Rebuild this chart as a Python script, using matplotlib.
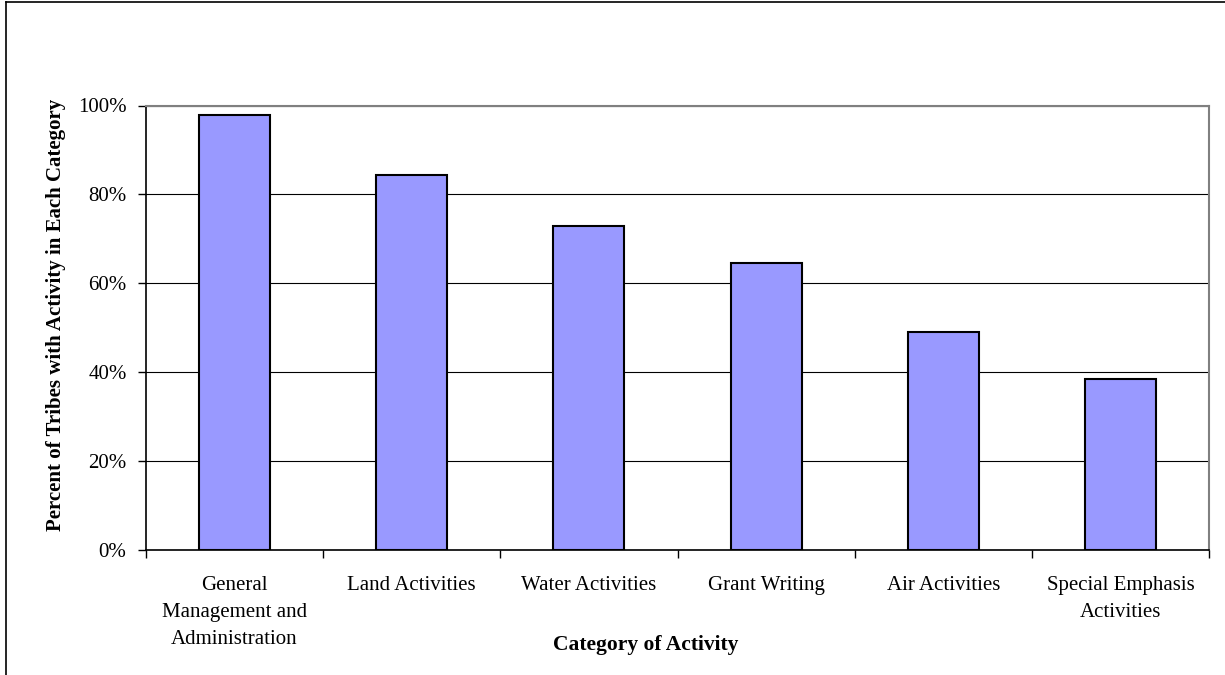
import numpy as np
import matplotlib.pyplot as plt
from matplotlib.ticker import PercentFormatter
from matplotlib.lines import Line2D

categories = ["General\nManagement and\nAdministration", "Land Activities", "Water Activities",
              "Grant Writing", "Air Activities", "Special Emphasis\nActivities"]
percents = [97.8, 84.3, 72.9, 64.6, 49.0, 38.5]

plt.rcParams['font.family'] = ['Liberation Serif', 'DejaVu Serif']

fig = plt.figure(figsize=(12.25, 6.75), dpi=100)
ax = fig.add_axes([146 / 1225, 1 - 550 / 675, (1209 - 146) / 1225, (550 - 105.5) / 675])

x = np.arange(len(categories))
ax.bar(x, percents, width=0.4, color="#9999FF", edgecolor="black", linewidth=1.5, zorder=3)

ax.set_xlim(-0.5, len(categories) - 0.5)
ax.set_ylim(0, 100)
ax.set_yticks(np.arange(0, 101, 20))
ax.yaxis.set_major_formatter(PercentFormatter(decimals=0))
ax.yaxis.grid(True, color="black", linewidth=0.8, zorder=0)

# category labels centred, tick marks on the boundaries
ax.set_xticks(x)
ax.set_xticklabels(categories, fontsize=15)
for lbl in ax.get_xticklabels():
    lbl.set_linespacing(1.57)
ax.tick_params(axis="x", length=0, pad=19)
ax.set_xticks(np.arange(-0.5, len(categories)), minor=True)
ax.tick_params(axis="x", which="minor", length=6, width=1, direction="out")
ax.tick_params(axis="y", labelsize=15, length=6, width=1, direction="out", pad=8)

for s in ["top", "right"]:
    ax.spines[s].set_color("#808080")
    ax.spines[s].set_linewidth(1.5)
ax.spines["left"].set_linewidth(1.2)
ax.spines["bottom"].set_linewidth(1.2)

fig.text(646 / 1225, 1 - 645 / 675, "Category of Activity", fontsize=15.5,
         fontweight="bold", ha="center", va="center")
fig.text(56 / 1225, 1 - 315 / 675, "Percent of Tribes with Activity in Each Category",
         fontsize=15, fontweight="bold", rotation=90, ha="center", va="center")

# outer chart frame (only left and top visible)
fig.add_artist(Line2D([6 / 1225, 6 / 1225], [0, 1 - 1.5 / 675], color="black", linewidth=1.2))
fig.add_artist(Line2D([6 / 1225, 1], [1 - 1.5 / 675, 1 - 1.5 / 675], color="black", linewidth=1.2))

fig.savefig("out.png", dpi=100)
